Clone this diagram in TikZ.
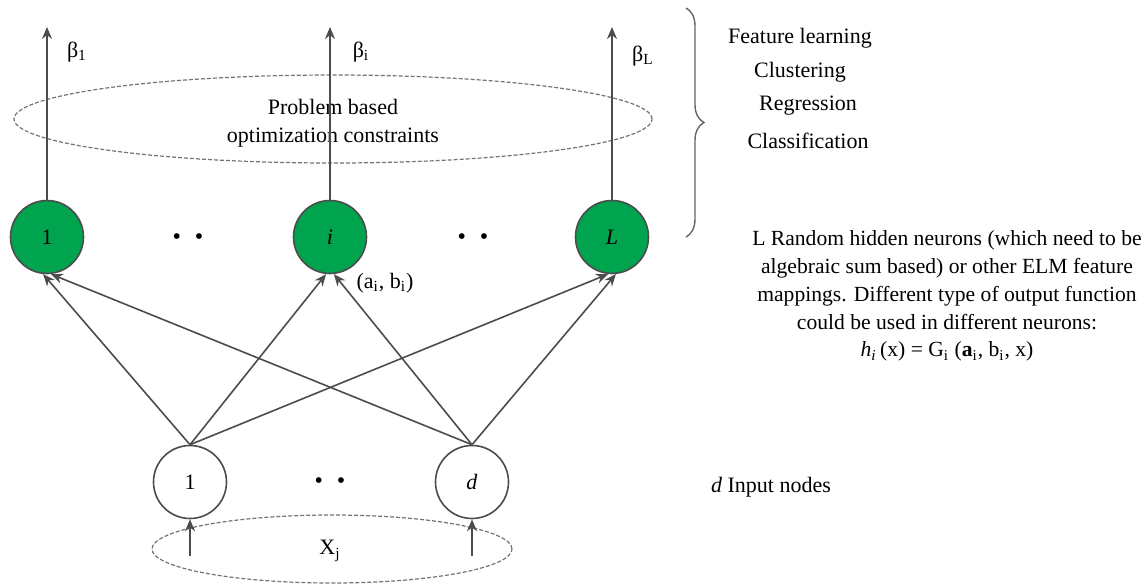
\documentclass[tikz,border=0pt]{standalone}
\usepackage{fontspec}
\setmainfont{Liberation Serif}
\usepackage{xcolor}
\usetikzlibrary{shapes.geometric,arrows.meta,positioning,decorations.pathreplacing}

\definecolor{elmgreen}{RGB}{0,163,78}

\begin{document}
\begin{tikzpicture}[
    x=0.5pt, y=-0.5pt,
    font=\fontsize{11}{13.75}\selectfont,
    hidden/.style={circle, draw=black!70, fill=elmgreen, line width=0.8pt, minimum size=36.5pt, inner sep=0pt},
    input/.style={circle, draw=black!70, fill=white, line width=0.8pt, minimum size=36.5pt, inner sep=0pt},
    zone/.style={ellipse, draw=black!55, dash pattern=on 2pt off 1pt, line width=0.6pt, inner sep=0pt},
    arrow/.style={-{Stealth[length=6pt,width=5pt]}, draw=black!70, line width=0.8pt},
    dots/.style={inner sep=0pt, font=\fontsize{12}{14}\selectfont},
    note/.style={align=center}
]
    \useasboundingbox (0,0) rectangle (1148,585);

    % Constraint zone
    \node[zone, minimum width=319pt, minimum height=44pt] (cons) at (333,119) {};
    \node[note] (constext) at (333,123) {Problem based\\optimization constraints};

    % Hidden layer
    \node[hidden] (h1) at (47,237) {1};
    \node[hidden] (hi) at (330,237) {\textit{i}};
    \node[hidden] (hL) at (612,237) {\textit{L}};
    \node[dots] (hdots1) at (188,239) {\textbullet\hspace{7pt}\textbullet};
    \node[dots] (hdots2) at (473,239) {\textbullet\hspace{7pt}\textbullet};

    % Output weights
    \coordinate (o1) at (47,27);
    \coordinate (oi) at (330,27);
    \coordinate (oL) at (612,27);
    \draw[arrow] (h1) -- (o1);
    \draw[arrow] (hi) -- (oi);
    \draw[arrow] (hL) -- (oL);
    \node (beta1) at (77,52) {β\textsubscript{1}};
    \node (betai) at (361,52) {β\textsubscript{i}};
    \node (betaL) at (643,56) {β\textsubscript{L}};

    % Input layer
    \node[zone, minimum width=180pt, minimum height=34pt] (xin) at (332,549) {};
    \node (xlab) at (330,551) {X\textsubscript{j}};
    \node[input] (x1) at (190,482) {1};
    \node[input] (xd) at (472,482) {\textit{d}};
    \node[dots] (xdots) at (330,483) {\textbullet\hspace{7pt}\textbullet};
    \coordinate (s1) at (190,556);
    \coordinate (sd) at (472,556);
    \draw[arrow] (s1) -- (x1);
    \draw[arrow] (sd) -- (xd);

    % Random hidden parameters
    \foreach \dst in {h1,hi,hL} {
        \draw[arrow] (x1.north) -- (\dst.-96);
        \draw[arrow] (xd.north) -- (\dst.-84);
    }
    \node (aibi) at (385,283) {(a\textsubscript{i}, b\textsubscript{i})};

    % Tasks
    \coordinate (btop) at (686,8);
    \coordinate (bbot) at (686,237);
    \draw[decorate, decoration={brace, amplitude=9pt}, draw=black!60, line width=0.7pt] (btop) -- (bbot);
    \node (feat) at (800,38) {Feature learning};
    \node (clus) at (800,72) {Clustering};
    \node (regr) at (808,106) {Regression};
    \node (clas) at (808,141) {Classification};

    % Notes
    \node[note, font=\fontsize{10.8}{13.9}\selectfont] (desc) at (947,296) {L Random hidden neurons (which need to be\\
        algebraic sum based) or other ELM feature\\
        mappings. Different type of output function\\
        could be used in different neurons:\\
        \textit{h\textsubscript{i}}\,(x) = G\textsubscript{i} (\textbf{a}\textsubscript{i}, b\textsubscript{i}, x)};
    \node (innote) at (771,487) {\textit{d} Input nodes};
\end{tikzpicture}
\end{document}
